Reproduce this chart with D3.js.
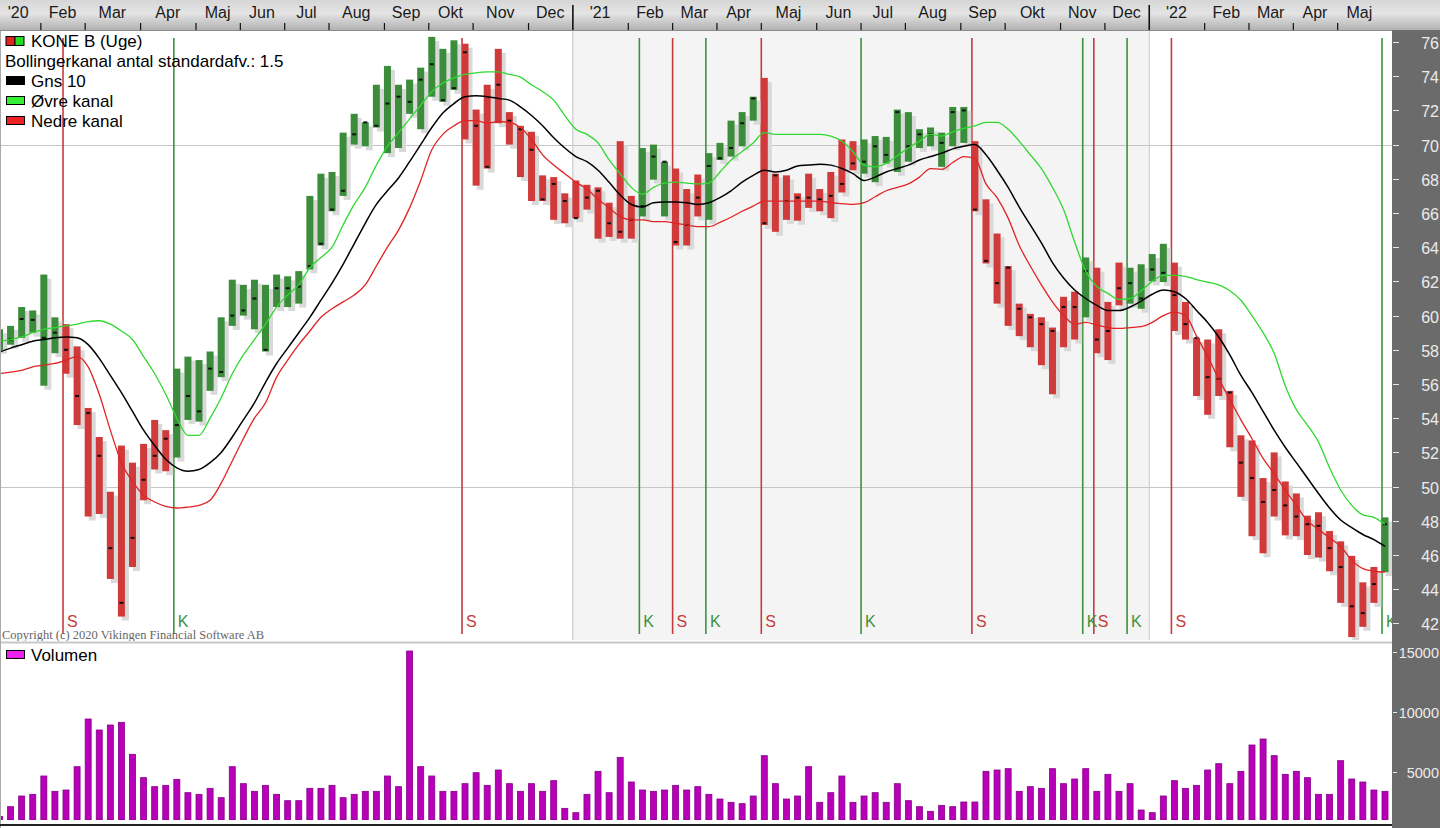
<!DOCTYPE html>
<html><head><meta charset="utf-8">
<script src="https://cdn.jsdelivr.net/npm/d3@7"></script>
<style>
body{margin:0;background:#fff;overflow:hidden}
text{font-family:"Liberation Sans",Arial,sans-serif}
</style>
</head><body>
<svg id="c" width="1440" height="828"></svg>
<script>
// ---------- DATA (weekly, KONE B) ----------
const high = [59.2,59.4,60.5,60.3,62.4,59.9,59.5,58.2,54.6,52.9,49.7,52.4,51.4,52.5,53.9,53.3,56.9,57.6,57.4,57.9,
59.9,62.1,61.8,62.1,61.8,62.4,62.3,62.6,67.0,68.3,68.4,70.7,71.8,71.3,73.5,74.6,73.5,73.8,74.5,76.3,
75.6,76.1,75.9,72.05,73.5,75.6,71.9,71.1,70.75,68.2,68.1,67.15,67.9,67.65,67.5,66.6,70.2,67.0,69.8,70.0,
69.0,68.6,67.4,68.25,69.5,70.1,71.4,71.9,72.8,73.9,68.3,68.2,67.15,68.3,67.4,68.4,70.3,70.2,70.3,70.5,
70.45,72.05,71.9,70.9,71.0,70.7,72.2,72.2,70.2,66.8,64.8,62.9,60.7,60.1,59.9,59.3,61.1,61.4,63.4,62.8,
60.8,63.1,62.8,63.0,63.6,64.2,63.1,60.8,58.7,58.6,59.2,55.6,53.0,52.7,50.5,52.0,50.3,49.6,48.3,48.5,
47.4,46.8,45.95,44.4,45.3,48.2];
const low = [58.0,58.3,58.7,59.0,55.9,57.8,56.6,53.6,48.25,48.4,44.6,42.4,45.3,49.2,51.0,50.9,51.7,53.9,53.8,55.6,
56.4,59.4,60.0,59.2,57.9,60.5,60.5,60.7,62.7,64.1,66.1,67.0,70.0,69.9,71.0,69.5,69.8,71.8,70.9,72.8,
72.5,73.2,70.3,67.6,68.6,71.25,70.0,68.1,66.7,66.7,65.6,65.4,65.7,66.2,64.5,64.6,64.5,64.5,65.8,67.95,
65.8,64.1,64.1,65.8,65.6,69.1,69.3,69.9,71.4,65.3,64.9,65.6,65.55,66.3,66.1,65.7,67.2,68.5,68.3,67.8,
68.9,68.4,69.0,69.8,69.9,68.7,69.9,70.1,66.1,63.05,60.7,59.4,58.8,58.15,57.1,55.4,58.15,58.6,59.9,57.8,
57.4,60.6,60.7,60.4,62.0,61.96,59.1,58.6,55.3,54.2,55.3,52.3,49.4,47.1,46.1,48.25,47.15,47.1,46.0,45.85,
45.05,43.2,41.2,41.8,43.2,45.0];
const close = [58.5,58.6,59.8,59.75,58.7,59.0,58.0,55.3,54.3,51.8,46.4,43.2,47.0,50.4,51.8,52.8,53.6,55.3,54.4,56.9,
56.7,60.0,60.3,61.0,58.0,61.6,61.6,61.7,62.9,64.2,66.2,67.3,70.6,71.3,71.1,72.4,72.8,72.5,73.8,74.7,
72.6,73.3,75.4,71.1,68.7,73.5,71.4,70.9,69.7,66.8,67.7,66.7,65.7,66.9,67.3,65.4,64.9,65.6,66.4,69.3,
69.0,64.3,65.3,66.9,68.75,69.2,69.8,71.25,72.7,65.4,68.2,66.7,66.9,66.9,66.8,67.0,67.7,68.9,69.0,69.9,
69.4,71.9,69.9,70.6,70.6,70.1,71.9,72.0,66.2,63.2,61.9,62.8,60.4,59.9,59.5,59.1,60.5,60.5,62.6,58.6,
59.1,61.6,61.9,61.0,62.7,62.5,61.2,59.5,58.7,56.4,56.3,55.5,51.4,50.5,49.1,49.8,48.9,48.25,47.8,47.7,
46.4,45.3,43.0,42.6,44.3,47.8];
const ma10 = [57.87,58.1,58.3,58.5,58.6,58.7,58.75,58.7,58.3,57.5,56.5,55.5,54.4,53.3,52.4,51.6,51.1,50.9,51.0,51.4,
52.0,52.9,53.9,54.9,56.1,57.2,58.1,59.0,59.9,60.9,61.9,63.0,64.2,65.4,66.5,67.3,68.05,69.0,70.0,71.0,
71.85,72.4,72.8,72.85,72.8,72.7,72.6,72.2,71.7,71.1,70.4,69.8,69.3,69.0,68.5,67.8,67.05,66.5,66.35,66.6,
66.65,66.65,66.6,66.5,66.6,66.9,67.3,67.8,68.2,68.5,68.4,68.5,68.75,68.8,68.85,68.8,68.6,68.3,67.9,68.1,
68.4,68.6,68.8,69.1,69.3,69.5,69.75,69.9,70.0,69.4,68.5,67.5,66.35,65.3,64.25,63.1,62.2,61.5,61.0,60.6,
60.3,60.3,60.5,60.85,61.25,61.5,61.4,61.0,60.3,59.6,58.75,57.7,56.5,55.5,54.4,53.3,52.3,51.4,50.5,49.6,
48.75,48.05,47.6,47.2,46.9,46.5];
const upper = [58.5,58.6,58.75,59.0,59.2,59.3,59.4,59.5,59.65,59.7,59.5,59.1,58.6,57.6,56.6,55.4,54.0,53.0,53.0,54.0,
55.2,56.6,57.7,58.6,59.5,60.5,61.2,61.8,62.8,63.4,64.0,65.3,66.5,67.5,68.8,69.9,70.7,71.5,72.3,73.1,
73.6,73.9,74.1,74.2,74.25,74.25,74.1,73.95,73.5,73.1,72.6,71.7,70.9,70.6,70.1,69.1,68.3,67.5,67.1,67.5,
67.75,67.8,67.75,67.7,67.75,68.4,69.1,69.6,70.1,70.7,70.6,70.6,70.6,70.6,70.6,70.5,70.2,69.6,68.8,68.7,
68.9,69.35,69.8,70.2,70.6,70.5,70.75,70.95,71.1,71.3,71.3,70.9,70.2,69.4,68.6,67.5,66.2,64.3,62.6,61.7,
61.3,60.95,61.0,61.45,62.0,62.35,62.35,62.3,62.1,61.95,61.8,61.45,60.9,60.0,59.0,57.8,55.9,54.5,53.6,52.6,
51.1,49.8,48.9,48.35,48.2,47.8];
const lower = [56.6,56.7,56.8,57.0,57.1,57.2,57.4,57.6,57.0,55.4,53.3,51.4,50.3,49.5,49.1,48.85,48.75,48.8,48.9,49.2,
50.2,51.5,52.8,54.0,54.9,56.4,57.4,58.3,59.1,59.9,60.4,60.8,61.2,61.8,62.9,64.0,65.0,66.3,67.9,69.7,
70.6,71.1,71.4,71.4,71.25,71.35,71.3,71.0,70.3,69.4,68.8,68.3,67.8,67.4,66.8,66.3,65.8,65.6,65.6,65.5,
65.5,65.4,65.3,65.2,65.2,65.45,65.75,66.1,66.4,66.7,66.7,66.7,66.7,66.7,66.7,66.6,66.55,66.5,66.6,66.95,
67.3,67.5,67.7,68.1,68.6,68.55,68.95,69.3,69.2,67.7,66.9,65.7,64.1,62.9,61.8,60.8,60.0,59.5,59.6,59.45,
59.3,59.25,59.3,59.35,59.6,60.0,60.2,60.0,58.8,57.6,56.3,55.1,53.9,52.8,51.65,50.75,49.8,48.9,48.0,47.5,
47.0,46.5,45.7,45.2,45.05,45.0];
const volume = [1300,2111,3000,3139,4667,3389,3500,5444,9417,8500,8917,9139,6472,4528,3778,3889,4389,3278,3139,3639,
2861,5444,4028,3389,3889,3139,2611,2611,3639,3639,3889,2861,3139,3389,3389,4667,3778,15083,5444,4667,
3389,3389,4028,4944,3889,5167,4028,3389,4028,3389,4278,1972,1611,3139,5056,3278,6222,4167,3500,3389,
3500,3889,3500,3778,3139,2750,2472,2361,3000,6361,4028,2750,3000,5444,2472,3278,4667,2472,3000,3278,
2472,4028,2611,2111,1722,2222,2111,2500,2500,5056,5167,5278,3389,3778,3639,5278,4028,4417,5278,3389,
4806,3389,4028,1833,1611,3000,4278,3639,3889,5167,5694,4028,5056,7250,7750,6361,4806,5056,4528,3139,
3139,5944,4417,4167,3500,3389];
// signals: week index and type (K = köp/buy, S = sälj/sell)
const signalWeek = [6,16,42,58,61,64,69,78,88,98,99,102,106,125];
const signalType = ["S","K","S","K","S","K","S","K","S","K","S","K","S","K"];
// month starts (week index) and labels
const monthStart = [0,4,8,13,18,22,26,30,35,39,43,48,52,57,61,65,69,74,78,82,87,91,96,100,104,109,113,117,121];
const monthLabel = ["'20","Feb","Mar","Apr","Maj","Jun","Jul","Aug","Sep","Okt","Nov","Dec","'21","Feb","Mar","Apr","Maj","Jun","Jul","Aug","Sep","Okt","Nov","Dec","'22","Feb","Mar","Apr","Maj"];
const yearStart = [52,104];
const priceTicks = d3.range(42,77,2);
const volTicks = [5000,10000,15000];
const priceGrid = [70,50];

// ---------- LAYOUT ----------
const svg = d3.select('#c');
const W = 1440, H = 828, plotR = 1392;
const pTop = 31, pBot = 640, vTop = 645, vBot = 820;
const N = high.length;
const x = d3.scaleLinear().domain([0, N-1]).range([-0.5, 1385]);
const y = d3.scaleLinear().domain([42, 76]).range([623.4, 42]);
const yv = d3.scaleLinear().domain([0, 15000]).range([832, 652]);
const slot = i => x(i) - 3.5;

const defs = svg.append('defs');
const g1 = defs.append('linearGradient').attr('id','axg').attr('x1',0).attr('y1',0).attr('x2',0).attr('y2',1);
g1.append('stop').attr('offset','0%').attr('stop-color','#d6d6d6');
g1.append('stop').attr('offset','45%').attr('stop-color','#e4e4e4');
g1.append('stop').attr('offset','100%').attr('stop-color','#b2b2b2');
defs.append('clipPath').attr('id','pclip').append('rect').attr('x',0).attr('y',pTop).attr('width',plotR).attr('height',pBot-pTop);
defs.append('clipPath').attr('id','vclip').append('rect').attr('x',0).attr('y',vTop).attr('width',plotR).attr('height',vBot-vTop);

svg.append('rect').attr('width',W).attr('height',H).attr('fill','#fff');

// price panel background, 2021 band
const pg = svg.append('g').attr('clip-path','url(#pclip)');
pg.append('rect').attr('x',slot(yearStart[0])).attr('y',pTop).attr('width',slot(yearStart[1])-slot(yearStart[0])).attr('height',pBot-pTop).attr('fill','#f4f4f4');
yearStart.forEach(i=>pg.append('line').attr('x1',slot(i)+0.5).attr('x2',slot(i)+0.5).attr('y1',pTop).attr('y2',pBot).attr('stroke','#c4c4c4'));
priceGrid.forEach(v=>pg.append('line').attr('x1',0).attr('x2',plotR).attr('y1',Math.round(y(v))+0.5).attr('y2',Math.round(y(v))+0.5).attr('stroke','#c6c6c6'));

// signal lines
const sigCol = t => t==='S' ? '#c43c3c' : '#3c923c';
signalWeek.forEach((w,k)=>{
  const sx = x(w) - 3;
  pg.append('line').attr('x1',sx).attr('x2',sx).attr('y1',38).attr('y2',634).attr('stroke',sigCol(signalType[k])).attr('stroke-width',1.6);
});

// state colour per week from signals
const state = d3.range(N).map(i=>{
  let s = 'K';
  signalWeek.forEach((w,k)=>{ if (w<=i) s = signalType[k]; });
  return s;
});
const barCol = s => s==='S' ? '#d03a3a' : '#3b8c3b';

// shadows
pg.selectAll('rect.sh').data(d3.range(N)).join('rect').attr('class','sh')
  .attr('x',i=>x(i)-3.5+4).attr('y',i=>y(high[i])+4).attr('width',7).attr('height',i=>y(low[i])-y(high[i]))
  .attr('fill','#d9d9d9');
// bars
pg.selectAll('rect.bar').data(d3.range(N)).join('rect').attr('class','bar')
  .attr('x',i=>x(i)-3.5).attr('y',i=>y(high[i])).attr('width',7).attr('height',i=>y(low[i])-y(high[i]))
  .attr('fill',i=>barCol(state[i]));
// close ticks
pg.selectAll('rect.cl').data(d3.range(N)).join('rect').attr('class','cl')
  .attr('x',i=>x(i)-2).attr('y',i=>y(close[i])-1).attr('width',4).attr('height',2).attr('fill','#111');

// band lines
const line = arr => d3.line().x((d,i)=>x(i)).y(d=>y(d)).curve(d3.curveMonotoneX)(arr);
pg.append('path').attr('d',line(upper)).attr('fill','none').attr('stroke','#30d830').attr('stroke-width',1.3);
pg.append('path').attr('d',line(lower)).attr('fill','none').attr('stroke','#e02424').attr('stroke-width',1.3);
pg.append('path').attr('d',line(ma10)).attr('fill','none').attr('stroke','#000').attr('stroke-width',1.5);

// copyright
svg.append('text').attr('x',2).attr('y',639).attr('font-size',12.5).attr('fill','#666')
  .style('font-family','"Liberation Serif","DejaVu Serif",serif').text('Copyright (c) 2020 Vikingen Financial Software AB');

// signal letters
signalWeek.forEach((w,k)=>{
  const sx = x(w) - 3;
  svg.append('text').attr('x',sx+4).attr('y',627).attr('font-size',16).attr('fill',sigCol(signalType[k])).text(signalType[k]);
});

// legend
const lg = svg.append('g').attr('font-size',17).attr('fill','#000');
lg.append('rect').attr('x',6).attr('y',36.5).attr('width',9).attr('height',9).attr('fill','#e52222').attr('stroke','#000');
lg.append('rect').attr('x',15).attr('y',36.5).attr('width',9).attr('height',9).attr('fill','#22dd22').attr('stroke','#000');
lg.append('text').attr('x',31).attr('y',47).text('KONE B (Uge)');
lg.append('text').attr('x',5).attr('y',67).text('Bollingerkanal antal standardafv.: 1.5');
[['#000','Gns 10',87],['#33ee33','\u00D8vre kanal',107],['#ee2222','Nedre kanal',127]].forEach(d=>{
  lg.append('rect').attr('x',6.5).attr('y',d[2]-10.5).attr('width',18).attr('height',8).attr('fill',d[0]).attr('stroke','#000');
  lg.append('text').attr('x',31).attr('y',d[2]).text(d[1]);
});

// panel separator
svg.append('rect').attr('x',0).attr('y',641).attr('width',plotR).attr('height',4).attr('fill','#fff');
svg.append('line').attr('x1',0).attr('x2',plotR).attr('y1',642.5).attr('y2',642.5).attr('stroke','#c8c8c8').attr('stroke-width',2);

// volume
const vg = svg.append('g').attr('clip-path','url(#vclip)');
vg.selectAll('rect.v').data(d3.range(N)).join('rect').attr('class','v')
  .attr('x',i=>x(i)-3).attr('y',i=>yv(volume[i])).attr('width',6).attr('height',i=>vBot-yv(volume[i]))
  .attr('fill','#b800b8').attr('stroke','#86008a').attr('stroke-width',0.8);
svg.append('rect').attr('x',6.5).attr('y',650.5).attr('width',18).attr('height',8).attr('fill','#ee22ee').attr('stroke','#000');
svg.append('text').attr('x',31).attr('y',661).attr('font-size',17).text('Volumen');

// left border + bottom
svg.append('line').attr('x1',0.5).attr('x2',0.5).attr('y1',30).attr('y2',H).attr('stroke','#aaa');
svg.append('line').attr('x1',0).attr('x2',W).attr('y1',825).attr('y2',825).attr('stroke','#222').attr('stroke-width',2);

// top axis
svg.append('rect').attr('x',0).attr('y',0).attr('width',W).attr('height',30).attr('fill','url(#axg)');
svg.append('line').attr('x1',0).attr('x2',W).attr('y1',30.5).attr('y2',30.5).attr('stroke','#8a8a8a');
monthStart.forEach((m,k)=>{
  const next = k < monthStart.length-1 ? monthStart[k+1] : N-1;
  const cx = (slot(m) + slot(next))/2;
  svg.append('text').attr('x',cx).attr('y',18).attr('text-anchor','middle').attr('font-size',16).attr('fill','#1a1a1a').text(monthLabel[k]);
  if (m > 0) {
    const isYear = yearStart.includes(m);
    svg.append('line').attr('x1',slot(m)+0.5).attr('x2',slot(m)+0.5)
      .attr('y1', isYear ? 5 : 23).attr('y2',30).attr('stroke','#111').attr('stroke-width', isYear ? 1.6 : 1.2);
  }
});

// right axis panel
svg.append('rect').attr('x',plotR).attr('y',30).attr('width',W-plotR).attr('height',H-30).attr('fill','#6b6b6b');
priceTicks.forEach(v=>{
  const ty = Math.round(y(v))+0.5;
  svg.append('line').attr('x1',plotR+1).attr('x2',plotR+7).attr('y1',ty).attr('y2',ty).attr('stroke','#e8e8e8');
  svg.append('text').attr('x',1439).attr('y',ty+6).attr('text-anchor','end').attr('font-size',16).attr('fill','#ececec').text(v);
});
volTicks.forEach(v=>{
  const ty = Math.round(yv(v))+0.5;
  svg.append('line').attr('x1',plotR+1).attr('x2',plotR+5).attr('y1',ty).attr('y2',ty).attr('stroke','#e8e8e8');
  svg.append('text').attr('x',1439).attr('y',ty+5).attr('text-anchor','end').attr('font-size',14.5).attr('fill','#ececec').text(v);
});
</script>
</body></html>
